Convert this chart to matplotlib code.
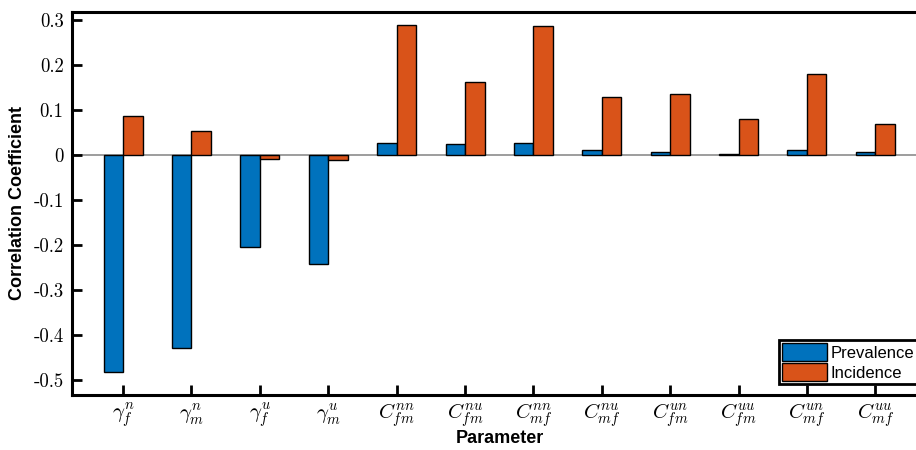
import matplotlib
matplotlib.use('Agg')
import matplotlib.pyplot as plt
import numpy as np

plt.rcParams['mathtext.fontset'] = 'cm'
plt.rcParams['axes.unicode_minus'] = False

# Data
params = [r'$\gamma_f^n$', r'$\gamma_m^n$', r'$\gamma_f^u$', r'$\gamma_m^u$',
          r'$C_{fm}^{nn}$', r'$C_{fm}^{nu}$', r'$C_{mf}^{nn}$', r'$C_{mf}^{nu}$',
          r'$C_{fm}^{un}$', r'$C_{fm}^{uu}$', r'$C_{mf}^{un}$', r'$C_{mf}^{uu}$']
prevalence = [-0.482, -0.429, -0.204, -0.242, 0.027, 0.024, 0.027, 0.011,
              0.007, 0.002, 0.011, 0.006]
incidence = [0.087, 0.053, -0.009, -0.011, 0.289, 0.162, 0.287, 0.129,
             0.136, 0.080, 0.180, 0.069]
yticks = [0.3, 0.2, 0.1, 0, -0.1, -0.2, -0.3, -0.4, -0.5]

fig = plt.figure(figsize=(9.16, 4.5), dpi=100)
# axes runs slightly past the right edge of the figure (cropped like the original)
ax = fig.add_axes([72 / 916, 55 / 450, 856 / 916, 383 / 450])

x = np.arange(1, len(params) + 1)
w = 0.285
ax.axhline(0, color='#8c8c8c', lw=1.2, zorder=1)
ax.bar(x - w / 2, prevalence, w, color='#0072BD', edgecolor='black', lw=1, label='Prevalence', zorder=2)
ax.bar(x + w / 2, incidence, w, color='#D95319', edgecolor='black', lw=1, label='Incidence', zorder=2)

ax.set_xlim(0.253, 12.77)
ax.set_ylim(-0.533, 0.318)
ax.set_xticks(x)
ax.set_xticklabels(params, fontsize=15)
ax.set_yticks(yticks)
ax.set_yticklabels([('%g' % v) for v in yticks], fontfamily='cmr10', fontsize=13.5)

ax.tick_params(direction='in', length=7, width=2, top=False, right=False)
ax.tick_params(axis='x', pad=5)
ax.tick_params(axis='y', pad=6)
for s in ax.spines.values():
    s.set_linewidth(2.2)

ax.set_ylabel('Correlation Coefficient', fontsize=13, fontweight='bold', family='Liberation Sans', labelpad=5)
ax.set_xlabel('Parameter', fontsize=13, fontweight='bold', family='Liberation Sans', labelpad=0)

leg = ax.legend(loc='lower right', prop={'family': 'Liberation Sans', 'size': 12},
                fancybox=False, framealpha=1, edgecolor='black',
                borderpad=0.2, handlelength=2.7, handleheight=1.25, handletextpad=0.2,
                labelspacing=0.15, borderaxespad=0.65)
leg.get_frame().set_linewidth(2)

plt.savefig('out.png', dpi=100)
